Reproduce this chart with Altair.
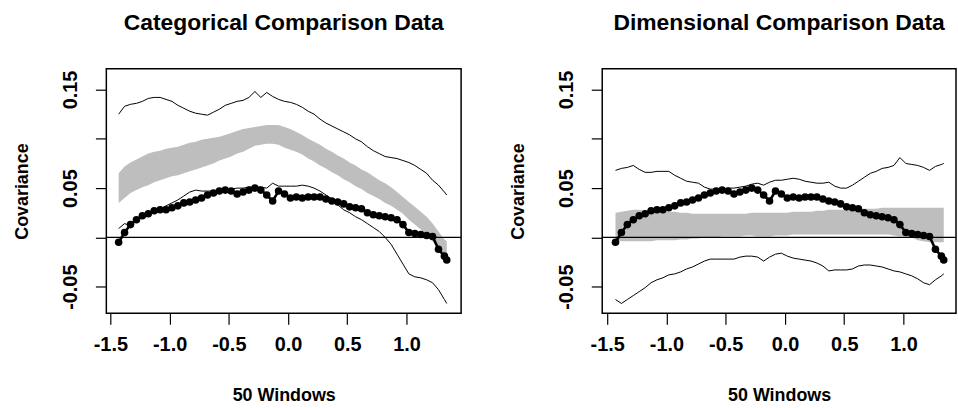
import altair as alt
import pandas as pd

# ---- data ----
x_vals = [-1.43, -1.38, -1.33, -1.28, -1.23, -1.18, -1.13, -1.08, -1.03, -0.98,
          -0.93, -0.88, -0.83, -0.78, -0.73, -0.68, -0.63, -0.58, -0.53, -0.48,
          -0.43, -0.38, -0.33, -0.28, -0.23, -0.18, -0.13, -0.08, -0.03, 0.02,
          0.07, 0.12, 0.17, 0.22, 0.27, 0.32, 0.37, 0.42, 0.47, 0.52,
          0.57, 0.62, 0.67, 0.72, 0.77, 0.82, 0.87, 0.92, 0.97, 1.02,
          1.07, 1.12, 1.17, 1.22, 1.27, 1.32, 1.34]

observed = [-0.005, 0.005, 0.013, 0.018, 0.022, 0.024, 0.027, 0.028, 0.028, 0.030,
            0.032, 0.035, 0.036, 0.038, 0.040, 0.043, 0.045, 0.047, 0.048, 0.047,
            0.044, 0.046, 0.048, 0.050, 0.048, 0.043, 0.037, 0.047, 0.044, 0.040,
            0.041, 0.040, 0.041, 0.041, 0.041, 0.039, 0.037, 0.036, 0.034, 0.031,
            0.030, 0.029, 0.025, 0.023, 0.022, 0.021, 0.020, 0.018, 0.013, 0.005,
            0.004, 0.003, 0.002, 0.001, -0.012, -0.019, -0.023]

cat_env_hi = [0.125, 0.133, 0.135, 0.136, 0.138, 0.141, 0.142, 0.142, 0.140, 0.138,
              0.134, 0.131, 0.128, 0.126, 0.125, 0.124, 0.127, 0.130, 0.134, 0.136,
              0.138, 0.139, 0.142, 0.148, 0.142, 0.147, 0.143, 0.140, 0.138, 0.137,
              0.135, 0.132, 0.128, 0.125, 0.120, 0.116, 0.113, 0.110, 0.107, 0.104,
              0.100, 0.097, 0.092, 0.088, 0.085, 0.082, 0.081, 0.080, 0.078, 0.076,
              0.073, 0.069, 0.065, 0.058, 0.053, 0.046, 0.043]
cat_env_lo = [0.009, 0.014, 0.012, 0.017, 0.020, 0.023, 0.026, 0.029, 0.032, 0.035,
              0.038, 0.042, 0.046, 0.048, 0.047, 0.047, 0.047, 0.048, 0.048, 0.049,
              0.050, 0.050, 0.051, 0.051, 0.051, 0.050, 0.055, 0.052, 0.052, 0.052,
              0.052, 0.053, 0.052, 0.050, 0.047, 0.043, 0.039, 0.033, 0.028, 0.025,
              0.021, 0.018, 0.014, 0.010, 0.006, 0.000, -0.007, -0.017, -0.027, -0.037,
              -0.040, -0.041, -0.043, -0.046, -0.053, -0.063, -0.067]
cat_band_hi = [0.065, 0.072, 0.076, 0.079, 0.082, 0.085, 0.087, 0.088, 0.090, 0.091,
               0.092, 0.094, 0.096, 0.097, 0.099, 0.100, 0.101, 0.102, 0.104, 0.106,
               0.108, 0.110, 0.111, 0.112, 0.113, 0.114, 0.114, 0.114, 0.112, 0.110,
               0.107, 0.104, 0.100, 0.097, 0.094, 0.090, 0.087, 0.083, 0.080, 0.076,
               0.073, 0.069, 0.066, 0.062, 0.058, 0.055, 0.051, 0.046, 0.041, 0.036,
               0.031, 0.026, 0.021, 0.014, 0.006, -0.002, -0.004]
cat_band_lo = [0.035, 0.040, 0.045, 0.048, 0.051, 0.053, 0.056, 0.058, 0.060, 0.062,
               0.063, 0.065, 0.067, 0.069, 0.071, 0.073, 0.075, 0.078, 0.080, 0.082,
               0.085, 0.087, 0.090, 0.093, 0.094, 0.095, 0.095, 0.094, 0.091, 0.089,
               0.087, 0.084, 0.080, 0.077, 0.073, 0.070, 0.066, 0.063, 0.059, 0.056,
               0.052, 0.049, 0.045, 0.042, 0.039, 0.035, 0.032, 0.028, 0.024, 0.018,
               0.013, 0.008, 0.002, -0.004, -0.011, -0.021, -0.024]

dim_env_hi = [0.068, 0.070, 0.071, 0.073, 0.069, 0.066, 0.066, 0.067, 0.067, 0.067,
              0.063, 0.060, 0.057, 0.056, 0.055, 0.051, 0.049, 0.049, 0.049, 0.050,
              0.050, 0.051, 0.052, 0.054, 0.055, 0.053, 0.056, 0.058, 0.058, 0.059,
              0.060, 0.059, 0.057, 0.056, 0.055, 0.055, 0.056, 0.052, 0.050, 0.050,
              0.053, 0.057, 0.061, 0.065, 0.067, 0.070, 0.071, 0.073, 0.081, 0.075,
              0.074, 0.073, 0.071, 0.068, 0.072, 0.074, 0.075]
dim_env_lo = [-0.063, -0.067, -0.063, -0.059, -0.055, -0.051, -0.046, -0.043, -0.041, -0.038,
              -0.037, -0.035, -0.032, -0.030, -0.027, -0.024, -0.022, -0.022, -0.022, -0.022,
              -0.022, -0.020, -0.019, -0.019, -0.020, -0.024, -0.020, -0.017, -0.016, -0.019,
              -0.021, -0.022, -0.023, -0.024, -0.026, -0.029, -0.034, -0.033, -0.033, -0.033,
              -0.032, -0.029, -0.028, -0.028, -0.029, -0.030, -0.032, -0.034, -0.035, -0.037,
              -0.039, -0.042, -0.046, -0.048, -0.043, -0.039, -0.037]
dim_band_hi = [0.025, 0.026, 0.027, 0.028, 0.028, 0.027, 0.027, 0.026, 0.026, 0.026,
               0.026, 0.025, 0.025, 0.024, 0.024, 0.024, 0.024, 0.024, 0.024, 0.024,
               0.024, 0.024, 0.024, 0.025, 0.025, 0.025, 0.025, 0.025, 0.025, 0.025,
               0.026, 0.026, 0.026, 0.026, 0.027, 0.027, 0.028, 0.028, 0.028, 0.028,
               0.028, 0.029, 0.029, 0.029, 0.029, 0.030, 0.030, 0.030, 0.030, 0.030,
               0.030, 0.030, 0.030, 0.030, 0.030, 0.030, 0.030]
dim_band_lo = [-0.004, -0.004, -0.004, -0.004, -0.004, -0.004, -0.004, -0.003, -0.003, -0.003,
               -0.003, -0.002, -0.002, -0.001, -0.001, 0.000, 0.000, 0.000, 0.001, 0.001,
               0.001, 0.001, 0.002, 0.002, 0.001, 0.001, 0.001, 0.002, 0.002, 0.002,
               0.003, 0.003, 0.003, 0.003, 0.003, 0.003, 0.003, 0.003, 0.003, 0.003,
               0.003, 0.003, 0.003, 0.003, 0.003, 0.003, 0.003, 0.002, 0.001, 0.001,
               0.000, -0.003, -0.004, -0.005, -0.005, -0.005, -0.005]

x_ticks = [-1.5, -1.0, -0.5, 0.0, 0.5, 1.0]
y_ticks = [-0.05, 0.0, 0.05, 0.10, 0.15]

FONT = "Liberation Sans"
GRAY = "#bebebe"


def panel(title, band_lo, band_hi, env_lo, env_hi, width, xdom):
    df = pd.DataFrame({
        "x": x_vals, "obs": observed,
        "band_lo": band_lo, "band_hi": band_hi,
        "env_lo": env_lo, "env_hi": env_hi,
    })
    xs = alt.Scale(domain=xdom, nice=False, zero=False)
    ys = alt.Scale(domain=[-0.077, 0.171], nice=False, zero=False)
    xax = alt.Axis(
        values=x_ticks, title="50 Windows",
        labelExpr="(datum.value < 0 ? '-' : '') + format(abs(datum.value), '.1f')",
        labelPadding=10, titlePadding=33,
    )
    yax = alt.Axis(
        values=y_ticks, title="Covariance",
        labelExpr="(abs(datum.value) < 1e-9 || abs(datum.value - 0.1) < 1e-9) ? '' : "
                  "(datum.value < 0 ? '-' : '') + format(abs(datum.value), '.2f')",
        labelAngle=270, labelAlign="center", labelBaseline="bottom",
        labelPadding=15, titlePadding=29,
    )
    base = alt.Chart(df)
    band = base.mark_area(color=GRAY, opacity=1).encode(
        x=alt.X("x:Q", scale=xs, axis=xax),
        y=alt.Y("band_lo:Q", scale=ys, axis=yax),
        y2="band_hi:Q",
    )
    zero = alt.Chart(pd.DataFrame({"z": [0.0]})).mark_rule(
        color="black", strokeWidth=1.4
    ).encode(y=alt.Y("z:Q", scale=ys))
    hi = base.mark_line(color="black", strokeWidth=1).encode(
        x=alt.X("x:Q", scale=xs), y=alt.Y("env_hi:Q", scale=ys))
    lo = base.mark_line(color="black", strokeWidth=1).encode(
        x=alt.X("x:Q", scale=xs), y=alt.Y("env_lo:Q", scale=ys))
    obs_line = base.mark_line(color="black", strokeWidth=2.6).encode(
        x=alt.X("x:Q", scale=xs), y=alt.Y("obs:Q", scale=ys))
    obs_pts = base.mark_circle(color="black", opacity=1, size=58).encode(
        x=alt.X("x:Q", scale=xs), y=alt.Y("obs:Q", scale=ys))
    return alt.layer(band, zero, hi, lo, obs_line, obs_pts).properties(
        width=width, height=246,
        title=alt.TitleParams(title, anchor="middle", frame="group",
                              baseline="alphabetic", offset=16),
    )


left = panel("Categorical Comparison Data", cat_band_lo, cat_band_hi,
             cat_env_lo, cat_env_hi, 357, [-1.534, 1.461])
right = panel("Dimensional Comparison Data", dim_band_lo, dim_band_hi,
              dim_env_lo, dim_env_hi, 356, [-1.542, 1.4435])

chart = alt.hconcat(left, right, spacing=142, bounds="flush").properties(
    padding={"left": 13, "top": 10, "right": 0, "bottom": 0},
    background="white",
).configure_view(
    stroke="black", strokeWidth=1.5
).configure_axis(
    grid=False, domain=False,
    tickColor="black", tickSize=11, tickWidth=1.2,
    labelFont=FONT, labelFontSize=20, labelFontWeight="bold", labelColor="black",
    titleFont=FONT, titleFontSize=18, titleFontWeight="bold", titleColor="black",
).configure_title(
    font=FONT, fontSize=23, fontWeight="bold", color="black",
)

chart.save("out.html", embed_options={"renderer": "svg", "actions": False})
